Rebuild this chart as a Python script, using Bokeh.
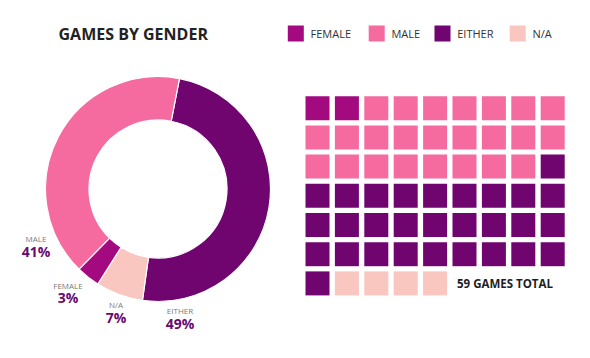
import math
from bokeh.plotting import figure
from bokeh.models import Range1d, ColumnDataSource
from bokeh.core.properties import value
from bokeh.embed import file_html
from bokeh.resources import INLINE

# ---- data ----
categories = ["FEMALE", "MALE", "EITHER", "N/A"]
counts = [2, 24, 29, 4]
colors = ["#a30a80", "#f56ba0", "#700570", "#f9c6c0"]
donut_order = ["EITHER", "N/A", "FEMALE", "MALE"]   # clockwise from top
total_label = "59 GAMES TOTAL"
title_text = "GAMES BY GENDER"

# ---- layout constants (image pixel coords; y measured from top) ----
IMG_H = 358
FONT = value("Open Sans")
def Y(v):
    return IMG_H - v

p = figure(width=574, height=342, x_range=Range1d(0, 574), y_range=Range1d(16, 358),
           output_backend="svg", toolbar_location=None, min_border=0,
           x_axis_type=None, y_axis_type=None)
p.grid.visible = False
p.outline_line_color = None
p.background_fill_color = "white"
p.border_fill_color = "white"

total = sum(counts)

# ---- donut ----
cx, cy = 157.5, Y(188.5)
start_deg = 11.0
xs, ys, starts, ends, cols = [], [], [], [], []
acc = start_deg
for name in donut_order:
    i = categories.index(name)
    sweep = counts[i] / total * 360.0
    th1, th2 = acc, acc + sweep
    starts.append(math.radians(90 - th2))
    ends.append(math.radians(90 - th1))
    cols.append(colors[i])
    xs.append(cx); ys.append(cy)
    acc = th2
src = ColumnDataSource(dict(x=xs, y=ys, start=starts, end=ends, color=cols))
p.annular_wedge(x="x", y="y", inner_radius=69, outer_radius=112.5,
                start_angle="start", end_angle="end", fill_color="color",
                line_color="white", line_width=1.2, source=src)

# donut labels
label_pos = {"MALE": (35.5, 237.5, 250.5), "FEMALE": (67.5, 285, 297),
             "N/A": (115.5, 304, 316.5), "EITHER": (179.5, 310, 322.5)}
for name in categories:
    i = categories.index(name)
    lx, ly1, ly2 = label_pos[name]
    pct = f"{round(counts[i] / total * 100)}%"
    p.text(x=[lx], y=[Y(ly1)], text=[name], text_font=FONT, text_font_size="8px",
           text_color="#7a7a7a", text_align="center", text_baseline="middle")
    p.text(x=[lx], y=[Y(ly2)], text=[pct], text_font=FONT, text_font_size="14px",
           text_font_style="bold", text_color="#6a0a6e", text_align="center",
           text_baseline="middle")

# ---- waffle ----
ncols = 9
x0, y0, pitch_x, pitch_y, sq = 317.0, 107.7, 29.4, 29.2, 24
wx, wy, wc = [], [], []
k = 0
for i, c in enumerate(counts):
    for _ in range(c):
        col, row = k % ncols, k // ncols
        wx.append(x0 + col * pitch_x)
        wy.append(Y(y0 + row * pitch_y))
        wc.append(colors[i])
        k += 1
p.rect(x=wx, y=wy, width=sq, height=sq, fill_color=wc, line_color=None)

p.text(x=[456.5], y=[Y(282.5)], text=[total_label], text_font=FONT, text_font_size="11.5px",
       text_font_style="bold", text_color="#1e1e1e", text_align="left", text_baseline="middle")

# ---- title ----
p.text(x=[58], y=[Y(33.5)], text=[title_text], text_font=FONT, text_font_size="16px",
       text_font_style="bold", text_color="#222222", text_align="left", text_baseline="middle")

# ---- legend ----
leg_x = [295.3, 376.2, 442.0, 517.2]
leg_y = 33.0
p.rect(x=leg_x, y=[Y(leg_y)] * 4, width=16, height=16, fill_color=colors, line_color=None)
p.text(x=[lx + 14.7 for lx in leg_x], y=[Y(leg_y)] * 4, text=categories, text_font=FONT,
       text_font_size="11px", text_color="#333333", text_align="left", text_baseline="middle")

open("out.html", "w").write(file_html(p, INLINE))
